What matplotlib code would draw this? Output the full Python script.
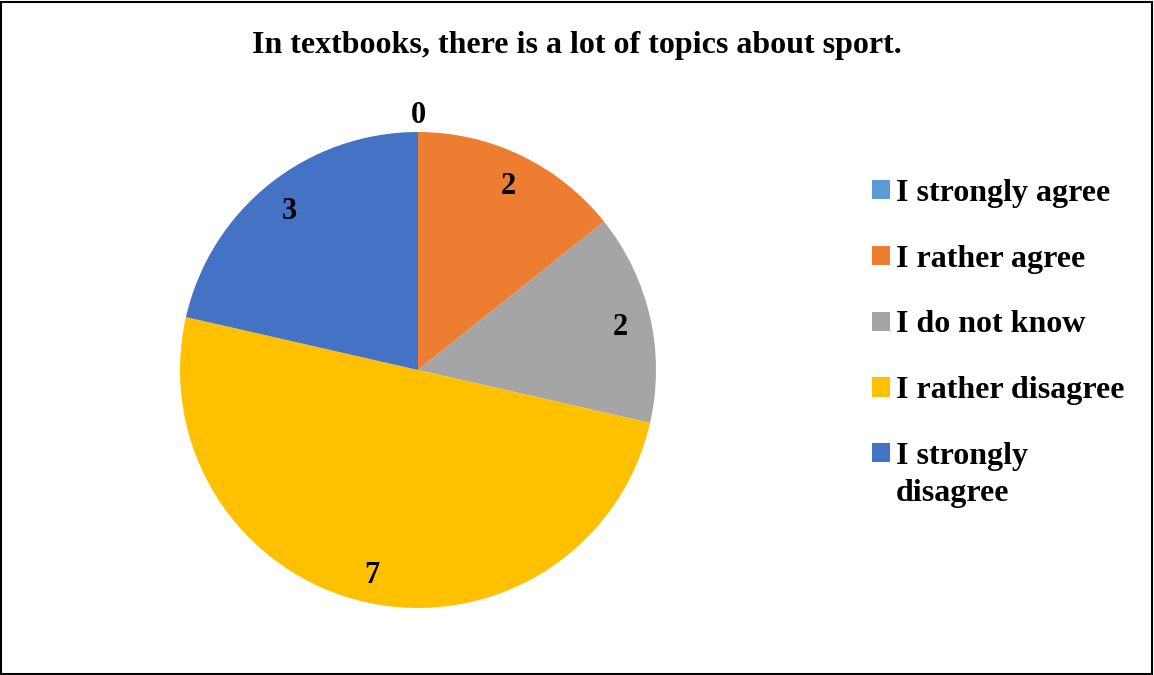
import matplotlib.pyplot as plt
import numpy as np
from matplotlib.patches import Rectangle

plt.rcParams['font.family'] = ['Liberation Serif', 'DejaVu Serif']
plt.rcParams['font.weight'] = 'bold'

title = "In textbooks, there is a lot of topics about sport."
categories = ["I strongly agree", "I rather agree", "I do not know",
              "I rather disagree", "I strongly"]
last_line = "disagree"
counts = [0, 2, 2, 7, 3]
colors = ["#5B9BD5", "#ED7D31", "#A5A5A5", "#FFC000", "#4472C4"]

W, H = 1154, 675
fig = plt.figure(figsize=(W / 100, H / 100), dpi=100)

# pie centre / radius in pixels
cx, cy, r = 418, 370, 238
ax = fig.add_axes([(cx - r) / W, (H - cy - r) / H, 2 * r / W, 2 * r / H])
wedges, _ = ax.pie(counts, colors=colors, startangle=90, counterclock=False,
                   radius=1, wedgeprops=dict(linewidth=0))
ax.set_xlim(-1, 1)
ax.set_ylim(-1, 1)
ax.set_aspect('equal')
ax.axis('off')

for w, v in zip(wedges, counts):
    ang = np.deg2rad((w.theta1 + w.theta2) / 2)
    d = 0.87 if v > 0 else 1.085
    ax.text(d * np.cos(ang), d * np.sin(ang), str(v), ha='center',
            va='center_baseline', fontsize=22, fontweight='bold', clip_on=False)

fig.text(0.5, 1 - 45 / H, title, ha='center', va='center', fontsize=23,
         fontweight='bold')

leg = fig.legend(wedges, categories, loc='upper left',
                 bbox_to_anchor=(872 / W, 1 - 179 / H), frameon=False,
                 prop=dict(size=23, weight='bold'), handlelength=0.55,
                 handleheight=0.55, handletextpad=0.2, labelspacing=1.15,
                 borderaxespad=0, borderpad=0)

# second line of the last legend entry, under its first line
fig.canvas.draw()
bb = leg.get_texts()[-1].get_window_extent()
fig.text(bb.x0 / W, (bb.y0 - 37) / H, last_line, ha='left', va='bottom',
         fontsize=23, fontweight='bold')

# outer frame
fig.patches.append(Rectangle((1 / W, 1 / H), 1 - 3 / W, 1 - 3 / H,
                             transform=fig.transFigure, fill=False,
                             edgecolor='black', linewidth=1.5))

fig.savefig("out.png", dpi=100)
